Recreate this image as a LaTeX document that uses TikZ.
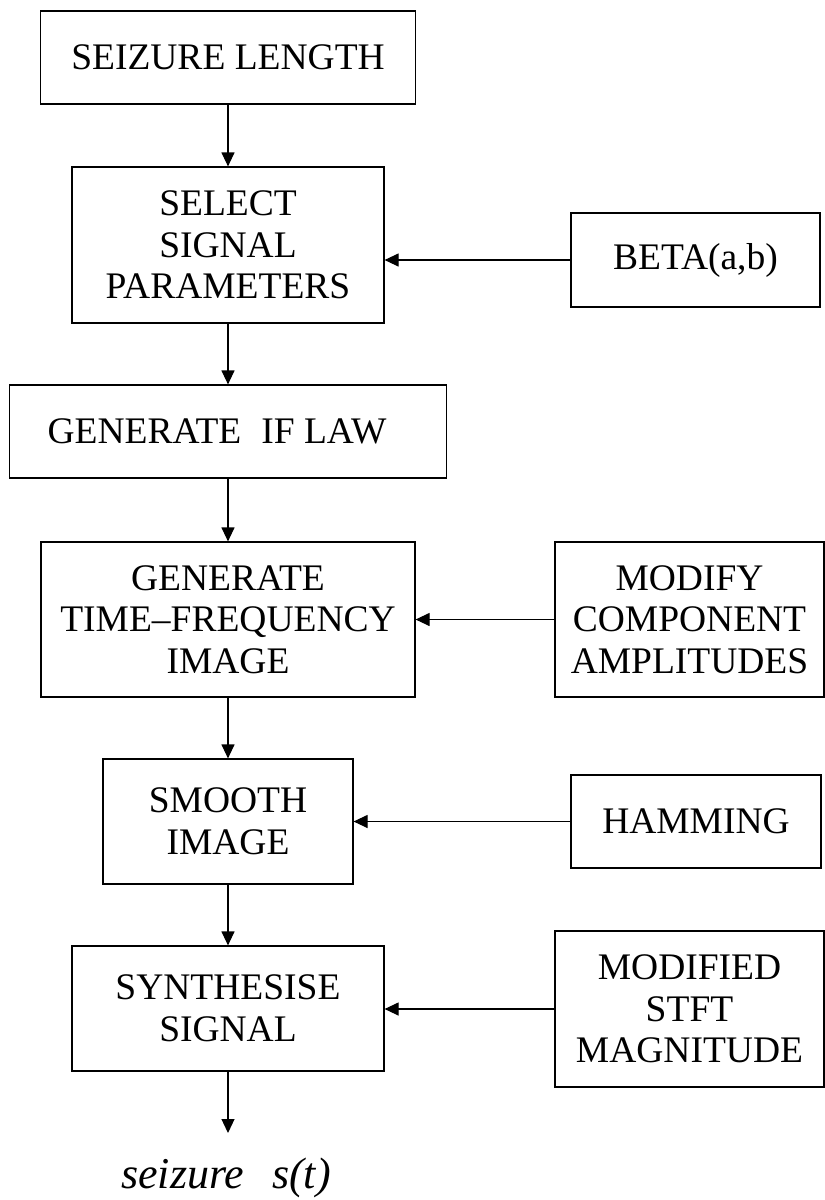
\documentclass[tikz,border=0pt]{standalone}
\usepackage{fontspec}
\setmainfont{Liberation Serif}
\usetikzlibrary{arrows.meta}
\begin{document}
\begin{tikzpicture}[x=1pt,y=-1pt,
  box/.style={draw, line width=1.2pt, inner sep=0pt, align=center,
    font=\fontsize{37.5}{41.5}\selectfont},
  arr/.style={line width=1.2pt, -{Triangle[length=14pt,width=13pt]}}]
\useasboundingbox (0,0) rectangle (825,1200);

% main chain
\node[box, minimum width=375pt, minimum height=93pt]  (seize)  at (228,57.5)   {SEIZURE LENGTH};
\node[box, minimum width=312pt, minimum height=156pt] (select) at (228,245)    {SELECT\\SIGNAL\\PARAMETERS};
\node[box, minimum width=437pt, minimum height=93pt]  (iflaw)  at (228,431.5)  {GENERATE\hspace{20pt}IF LAW\hspace{22pt}};
\node[box, minimum width=374pt, minimum height=155pt] (tf)     at (228,619.5)  {GENERATE\\ TIME--FREQUENCY\\IMAGE};
\node[box, minimum width=250pt, minimum height=125pt] (smooth) at (228,821.5)  {SMOOTH\\IMAGE};
\node[box, minimum width=312pt, minimum height=125pt] (synth)  at (228,1008.5) {SYNTHESISE\\SIGNAL};

% side inputs
\node[box, minimum width=249pt, minimum height=94pt]  (beta)   at (695.5,260)  {BETA(a,b)};
\node[box, minimum width=269pt, minimum height=155pt] (modify) at (689.5,619.5) {MODIFY\\COMPONENT\\AMPLITUDES};
\node[box, minimum width=250pt, minimum height=93pt]  (hamm)   at (696,821.5)  {HAMMING};
\node[box, minimum width=269pt, minimum height=156pt] (stft)   at (689.5,1009) {MODIFIED\\STFT\\MAGNITUDE};

% output
\coordinate (out) at (228,1133);
\node[font=\fontsize{44}{48}\selectfont\itshape, inner sep=0pt] (res) at (226,1178) {seizure\hspace{28pt}s(t)};

% connectors
\draw[arr] (seize) -- (select);
\draw[arr] (select) -- (iflaw);
\draw[arr] (iflaw) -- (tf);
\draw[arr] (tf) -- (smooth);
\draw[arr] (smooth) -- (synth);
\draw[arr] (synth) -- (out);

\draw[arr] (beta.west) -- (beta.west -| select.east);
\draw[arr] (modify.west) -- (modify.west -| tf.east);
\draw[arr] (hamm.west) -- (hamm.west -| smooth.east);
\draw[arr] (stft.west) -- (stft.west -| synth.east);
\end{tikzpicture}
\end{document}
